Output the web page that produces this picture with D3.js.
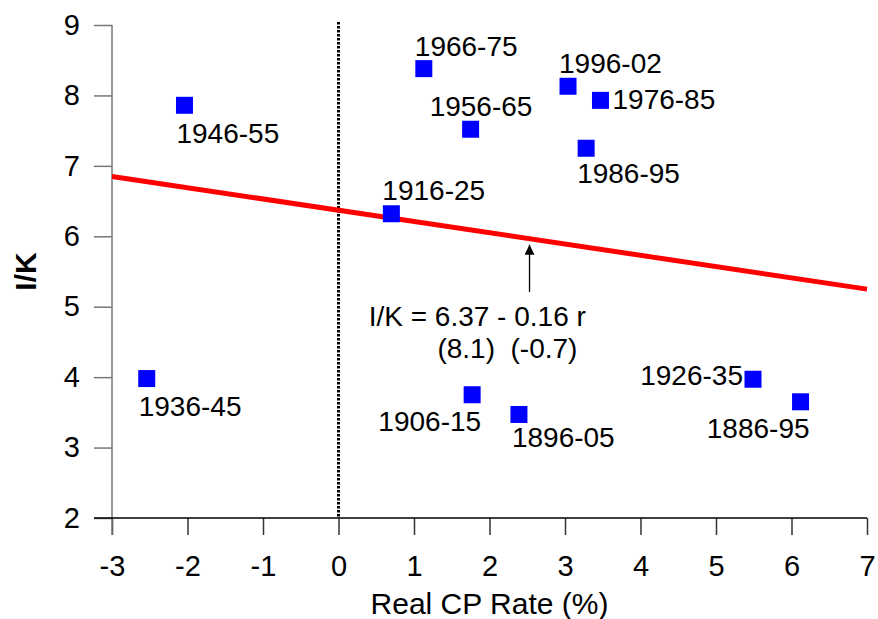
<!DOCTYPE html>
<html>
<head>
<meta charset="utf-8">
<script src="https://cdn.jsdelivr.net/npm/d3@7"></script>
<style>
  body { margin: 0; background: #fff; }
  svg { font-family: "Liberation Sans", Arial, sans-serif; }
</style>
</head>
<body>
<svg id="chart" width="878" height="619"></svg>
<script>
// decade periods and their values
var periods = ["1886-95", "1896-05", "1906-15", "1916-25", "1926-35", "1936-45",
               "1946-55", "1956-65", "1966-75", "1976-85", "1986-95", "1996-02"];
var realRate = [6.12, 2.39, 1.77, 0.70, 5.49, -2.54, -2.04, 1.75, 1.13, 3.47, 3.28, 3.04];
var ik = [3.65, 3.47, 3.75, 6.32, 3.97, 3.98, 7.86, 7.52, 8.38, 7.93, 7.25, 8.13];

var xTicks = [-3, -2, -1, 0, 1, 2, 3, 4, 5, 6, 7];
var yTicks = [2, 3, 4, 5, 6, 7, 8, 9];

// fitted line I/K = a + b r
var intercept = 6.37;
var slope = -0.16;
var eqLine1 = "I/K = 6.37 - 0.16 r";
var eqLine2 = "(8.1)  (-0.7)";

var svg = d3.select("#chart");
var margin = {top: 25, left: 112, right: 11, bottom: 101};
var width = 878 - margin.left - margin.right,
    height = 619 - margin.top - margin.bottom;

var x = d3.scaleLinear().domain([-3, 7]).range([margin.left, margin.left + width]);
var y = d3.scaleLinear().domain([2, 9]).range([margin.top + height, margin.top]);

// plain hyphen minus, no decimals
var fmt = function(d) { return String(d); };

// where each label sits relative to its square
var place = {
  "1886-95": {anchor: "end", dx: 9, dy: 36},
  "1896-05": {anchor: "start", dx: -7, dy: 33},
  "1906-15": {anchor: "end", dx: 9, dy: 36},
  "1916-25": {anchor: "start", dx: -9, dy: -14},
  "1926-35": {anchor: "end", dx: -10, dy: 6},
  "1936-45": {anchor: "start", dx: -8, dy: 37},
  "1946-55": {anchor: "start", dx: -8, dy: 38},
  "1956-65": {anchor: "start", dx: -41, dy: -13},
  "1966-75": {anchor: "start", dx: -9, dy: -13},
  "1976-85": {anchor: "start", dx: 12, dy: 9},
  "1986-95": {anchor: "start", dx: -9, dy: 35},
  "1996-02": {anchor: "start", dx: -9, dy: -13}
};

var points = periods.map(function(p, i) {
  return {label: p, r: realRate[i], v: ik[i]};
});

// dotted zero line
svg.append("line")
  .attr("x1", x(0)).attr("x2", x(0))
  .attr("y1", y(9) - 3).attr("y2", y(2))
  .attr("stroke", "#000")
  .attr("stroke-width", 3)
  .attr("stroke-dasharray", "2.5,1.5");

// axes
var yAxis = d3.axisLeft(y).tickValues(yTicks).tickFormat(fmt).tickSize(18).tickPadding(14);
var gy = svg.append("g")
  .attr("transform", "translate(" + margin.left + ",0)")
  .call(yAxis);
gy.select(".domain").remove();
gy.selectAll(".tick line").attr("stroke", "#777").attr("stroke-width", 1.5);
gy.selectAll(".tick text").attr("font-size", 29).attr("fill", "#000")
  .attr("font-family", "Liberation Sans, Arial, sans-serif");

var xAxis = d3.axisBottom(x).tickValues(xTicks).tickFormat(fmt).tickSize(17).tickPadding(20);
var gx = svg.append("g")
  .attr("transform", "translate(0," + y(2) + ")")
  .call(xAxis);
gx.select(".domain").remove();
gx.selectAll(".tick line").attr("stroke", "#333").attr("stroke-width", 1.5);
gx.selectAll(".tick text").attr("font-size", 29).attr("fill", "#000")
  .attr("font-family", "Liberation Sans, Arial, sans-serif");

// axis lines, each running past the other by a tick length
svg.append("line")
  .attr("x1", x(-3)).attr("x2", x(-3))
  .attr("y1", y(9)).attr("y2", y(2) + 17)
  .attr("stroke", "#777").attr("stroke-width", 1.5);
svg.append("line")
  .attr("x1", x(-3) - 18).attr("x2", x(7))
  .attr("y1", y(2)).attr("y2", y(2))
  .attr("stroke", "#000").attr("stroke-width", 1.5);

// axis titles
svg.append("text")
  .attr("x", (x(-3) + x(7)) / 2)
  .attr("y", 614)
  .attr("text-anchor", "middle")
  .attr("font-size", 30)
  .text("Real CP Rate (%)");

svg.append("text")
  .attr("transform", "translate(36," + (y(2) + y(9)) / 2 + ") rotate(-90)")
  .attr("text-anchor", "middle")
  .attr("font-size", 30)
  .attr("font-weight", "bold")
  .text("I/K");

// regression line
svg.append("line")
  .attr("x1", x(-3)).attr("y1", y(intercept + slope * -3))
  .attr("x2", x(7)).attr("y2", y(intercept + slope * 7))
  .attr("stroke", "#ff0000")
  .attr("stroke-width", 5);

// squares
var sz = 17;
svg.selectAll(".pt")
  .data(points)
  .enter()
  .append("rect")
  .attr("class", "pt")
  .attr("x", function(d) { return x(d.r) - sz / 2; })
  .attr("y", function(d) { return y(d.v) - sz / 2; })
  .attr("width", sz)
  .attr("height", sz)
  .attr("fill", "#0000ff");

svg.selectAll(".lbl")
  .data(points)
  .enter()
  .append("text")
  .attr("class", "lbl")
  .attr("x", function(d) { return x(d.r) + place[d.label].dx; })
  .attr("y", function(d) { return y(d.v) + place[d.label].dy; })
  .attr("text-anchor", function(d) { return place[d.label].anchor; })
  .attr("font-size", 28)
  .text(function(d) { return d.label; });

// arrow pointing at the fitted line
var arrowX = 2.53;
svg.append("defs").append("marker")
  .attr("id", "head")
  .attr("viewBox", "0 0 10 10")
  .attr("refX", 10).attr("refY", 5)
  .attr("markerWidth", 12).attr("markerHeight", 10)
  .attr("markerUnits", "userSpaceOnUse")
  .attr("orient", "auto")
  .append("path")
  .attr("d", "M0,0 L10,5 L0,10 Z")
  .attr("fill", "#000");

svg.append("line")
  .attr("x1", x(arrowX)).attr("x2", x(arrowX))
  .attr("y1", y(5.21)).attr("y2", y(intercept + slope * arrowX) + 6)
  .attr("stroke", "#000")
  .attr("stroke-width", 1.3)
  .attr("marker-end", "url(#head)");

svg.append("text")
  .attr("x", x(0.4))
  .attr("y", y(4.72))
  .attr("font-size", 28)
  .text(eqLine1);

svg.append("text")
  .attr("x", x(1.31))
  .attr("y", y(4.27))
  .attr("font-size", 28)
  .style("white-space", "pre")
  .text(eqLine2);
</script>
</body>
</html>
